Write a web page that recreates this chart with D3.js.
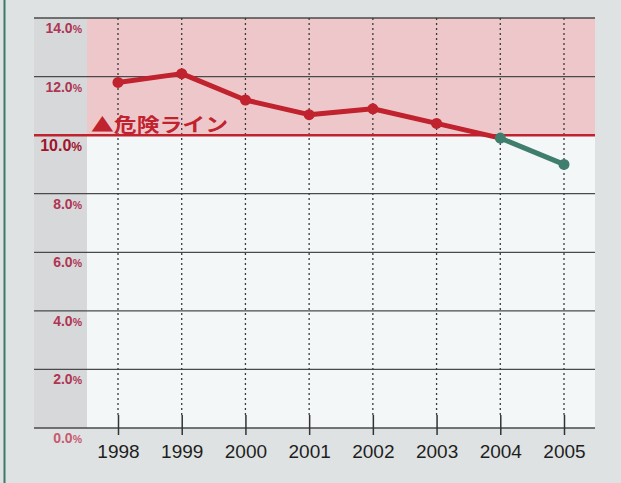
<!DOCTYPE html>
<html><head><meta charset="utf-8">
<script src="https://cdn.jsdelivr.net/npm/d3@7"></script>
<style>
html,body{margin:0;padding:0;background:#dfe2e2;}
svg{display:block;}
</style></head>
<body>
<svg id="chart" width="621" height="483"></svg>
<script>
const years = ["1998","1999","2000","2001","2002","2003","2004","2005"];
const rates = [11.8, 12.1, 11.2, 10.7, 10.9, 10.4, 9.9, 9.0];
const yTicks = [0, 2, 4, 6, 8, 10, 12, 14];
const dangerLevel = 10;
const dangerLabel = "▲危険ライン";
const redUntil = "2004";

const svg = d3.select("#chart");
const W = 621, H = 483;
const left = 34, right = 595, plotLeft = 87;
const y = d3.scaleLinear().domain([0, 14]).range([428, 18]);
const x = d3.scalePoint().domain(years).range([118, 564]);

// background
svg.append("rect").attr("width", W).attr("height", H).attr("fill", "#dfe2e2");
svg.append("line").attr("x1", 4.5).attr("x2", 4.5).attr("y1", 0).attr("y2", H)
  .attr("stroke", "#3f7a66").attr("stroke-width", 2);
// left grey strip
svg.append("rect").attr("x", left).attr("y", y(14)).attr("width", plotLeft - left)
  .attr("height", y(0) - y(14)).attr("fill", "#d6d8da");
// danger zone
svg.append("rect").attr("x", plotLeft).attr("y", y(14)).attr("width", right - plotLeft)
  .attr("height", y(dangerLevel) - y(14)).attr("fill", "#eec7cb");
svg.append("rect").attr("x", plotLeft).attr("y", y(dangerLevel)).attr("width", right - plotLeft)
  .attr("height", y(0) - y(dangerLevel)).attr("fill", "#f3f7f8");

// horizontal grid
svg.append("g").selectAll("line").data(yTicks.filter(d => d !== dangerLevel)).join("line")
  .attr("x1", left).attr("x2", right)
  .attr("y1", d => y(d)).attr("y2", d => y(d))
  .attr("stroke", "#4a4a4a").attr("stroke-width", 1.3);

// vertical dotted grid
svg.append("g").selectAll("line").data(years).join("line")
  .attr("x1", d => x(d)).attr("x2", d => x(d))
  .attr("y1", y(14)).attr("y2", 416)
  .attr("stroke", "#3a3a3a").attr("stroke-width", 1.3)
  .attr("stroke-dasharray", "2,3");

// x axis ticks
const xAxis = d3.axisBottom(x).tickSize(0).tickPadding(0);
const gx = svg.append("g").attr("transform", `translate(0,${y(0)})`).call(xAxis);
gx.select(".domain").remove();
gx.selectAll(".tick line").remove();
gx.selectAll(".tick").append("line").attr("y1", -13).attr("y2", 7)
  .attr("stroke", "#333").attr("stroke-width", 1.5);
gx.selectAll(".tick text")
  .attr("y", 30).attr("dy", 0)
  .attr("fill", "#1e1e1e")
  .attr("font-family", "Liberation Sans, Arial, sans-serif")
  .attr("font-size", 19)
  .attr("text-anchor", "middle");

// danger line
svg.append("line").attr("x1", left).attr("x2", right)
  .attr("y1", y(dangerLevel)).attr("y2", y(dangerLevel))
  .attr("stroke", "#c0222e").attr("stroke-width", 2.5);

// y labels
const yl = svg.append("g").selectAll("text").data(yTicks).join("text")
  .attr("x", 82)
  .attr("y", d => y(d) + (d === dangerLevel ? 16 : 15))
  .attr("text-anchor", "end")
  .attr("font-family", "Liberation Sans, Arial, sans-serif")
  .attr("font-weight", "bold")
  .attr("font-size", d => d === dangerLevel ? 16 : 14)
  .attr("fill", d => d === dangerLevel ? "#a0142c" : (d === 0 ? "#c85a70" : "#b03553"));
yl.append("tspan").text(d => d.toFixed(1));
yl.append("tspan").attr("font-size", d => d === dangerLevel ? 12 : 10.5).text("%");

// danger label
svg.append("text").attr("x", 91).attr("y", 132)
  .attr("font-family", "Noto Sans CJK JP, sans-serif")
  .attr("font-weight", "bold").attr("font-size", 19)
  .attr("fill", "#c0222e")
  .attr("textLength", 137).attr("lengthAdjust", "spacingAndGlyphs")
  .text(dangerLabel);

// data line
const data = years.map((yr, i) => ({yr, v: rates[i]}));
const splitIdx = years.indexOf(redUntil);
const line = d3.line().x(d => x(d.yr)).y(d => y(d.v));
svg.append("path").datum(data.slice(0, splitIdx + 1)).attr("d", line)
  .attr("fill", "none").attr("stroke", "#c0222e").attr("stroke-width", 5)
  .attr("stroke-linejoin", "round");
svg.append("path").datum(data.slice(splitIdx)).attr("d", line)
  .attr("fill", "none").attr("stroke", "#3f7d6c").attr("stroke-width", 5)
  .attr("stroke-linejoin", "round");
svg.append("g").selectAll("circle").data(data).join("circle")
  .attr("cx", d => x(d.yr)).attr("cy", d => y(d.v)).attr("r", 5.5)
  .attr("fill", (d, i) => i < splitIdx ? "#c0222e" : "#3f7d6c");
</script>
</body></html>
